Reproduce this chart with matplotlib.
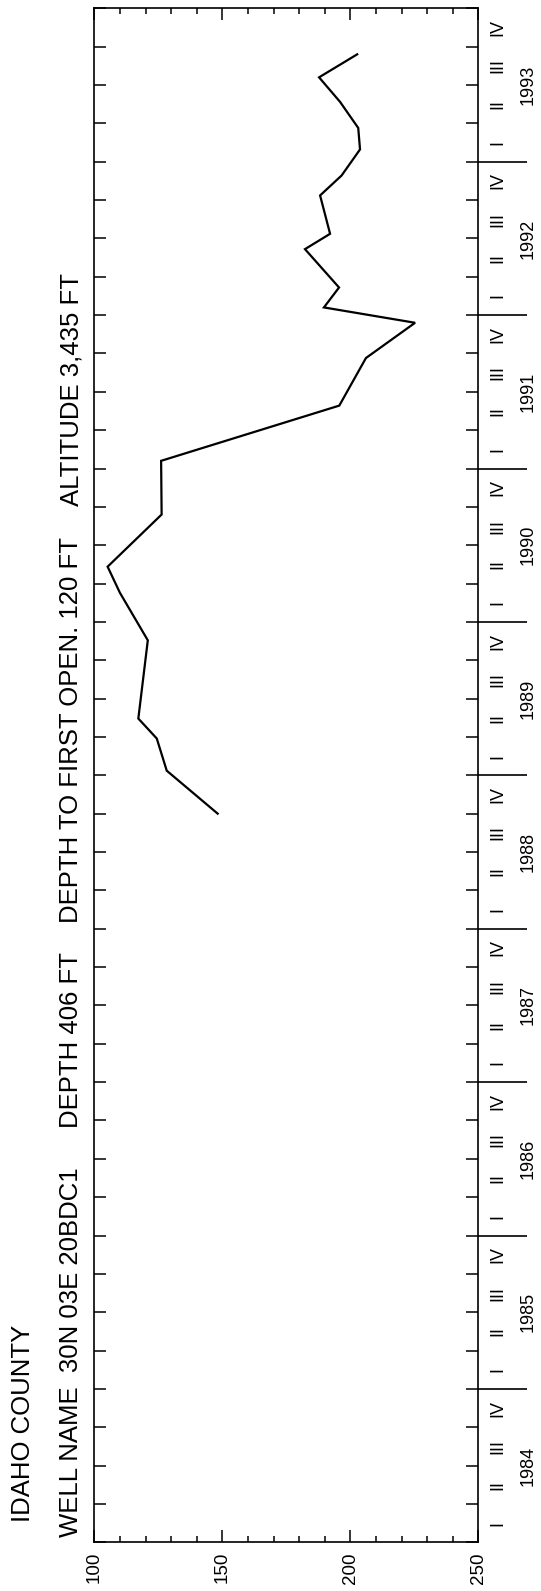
import matplotlib
matplotlib.use('Agg')
import matplotlib.pyplot as plt
import matplotlib.transforms as mtransforms

# ---------------- data ----------------
years = list(range(1984, 1994))
quarter_labels = ['I', 'II', 'III', 'IV']
depth_ticks = [100, 150, 200, 250]
depth_minor = list(range(100, 251, 10))

# decimal year of measurement
meas_date = [1988.75, 1989.03, 1989.24, 1989.37, 1989.88, 1990.19, 1990.36,
             1990.70, 1991.05, 1991.41, 1991.72, 1991.95, 1992.05, 1992.18,
             1992.43, 1992.53, 1992.78, 1992.91, 1993.08, 1993.22, 1993.39,
             1993.55, 1993.70]
# depth to water, feet
water_depth = [148.2, 128.3, 124.4, 117.2, 120.9, 110.0, 105.2,
               126.3, 126.1, 195.7, 206.1, 225.3, 189.7, 195.6,
               182.3, 192.1, 188.2, 196.6, 203.8, 203.1, 196.0,
               187.8, 202.7]

title1 = "IDAHO COUNTY"
title_parts = ["WELL NAME  30N 03E 20BDC1", "DEPTH 406 FT",
               "DEPTH TO FIRST OPEN. 120 FT", "ALTITUDE 3,435 FT"]

# ---------------- layout ----------------
FONT = 'Liberation Sans'
plt.rcParams['font.family'] = [FONT, 'DejaVu Sans']
W, H = 541, 1591
fig = plt.figure(figsize=(W / 100, H / 100), dpi=100)
L, R, T, B = 94.3, 478.3, 8.3, 1542.3
ax = fig.add_axes([L / W, 1 - B / H, (R - L) / W, (B - T) / H])

ax.plot(water_depth, meas_date, color='black', lw=1.6, solid_joinstyle='miter')

ax.set_xlim(depth_ticks[0], depth_ticks[-1])
ax.set_ylim(years[0], years[-1] + 1)

for s in ax.spines.values():
    s.set_linewidth(1.2)

# depth axis
ax.set_xticks(depth_ticks)
ax.set_xticklabels([str(v) for v in depth_ticks], rotation=90, fontsize=13.5)
ax.set_xticks(depth_minor, minor=True)
ax.tick_params(axis='x', which='major', direction='in', length=8.5, width=1.1,
               top=True, bottom=True, pad=7)
ax.tick_params(axis='x', which='minor', direction='in', length=4.5, width=1.1,
               top=True, bottom=True)

# time axis: quarter ticks
qticks = [y + q * 0.25 for y in years for q in range(4)] + [years[-1] + 1]
ax.set_yticks(qticks)
ax.set_yticklabels([])
ax.tick_params(axis='y', which='major', direction='in', length=8.3, width=1.1,
               left=True, right=True, labelleft=False)

trans = mtransforms.blended_transform_factory(ax.transAxes, ax.transData)
qx = (498.3 - L) / (R - L)
yx = (528.5 - L) / (R - L)
ext = (526.7 - L) / (R - L)
for y in years:
    for q, lab in enumerate(quarter_labels):
        ax.text(qx, y + q * 0.25 + 0.125, lab, transform=trans, rotation=90,
                ha='center', va='center', fontsize=13)
    ax.text(yx, y + 0.5, str(y), transform=trans, rotation=90,
            ha='center', va='center', fontsize=13)
    if y != years[0]:
        ax.plot([1, ext], [y, y], transform=trans, color='black', lw=1.2,
                clip_on=False, solid_capstyle='butt')

# titles
fig.text(23.3 / W, (H - 1522) / H, title1, rotation=90, ha='center',
         va='bottom', fontsize=18.5)
starts = [1537, 1128, 923, 506]
for txt, ys in zip(title_parts, starts):
    fig.text(71.4 / W, (H - ys) / H, txt, rotation=90, ha='center',
             va='bottom', fontsize=18.5)

fig.savefig('out.png', dpi=100)
